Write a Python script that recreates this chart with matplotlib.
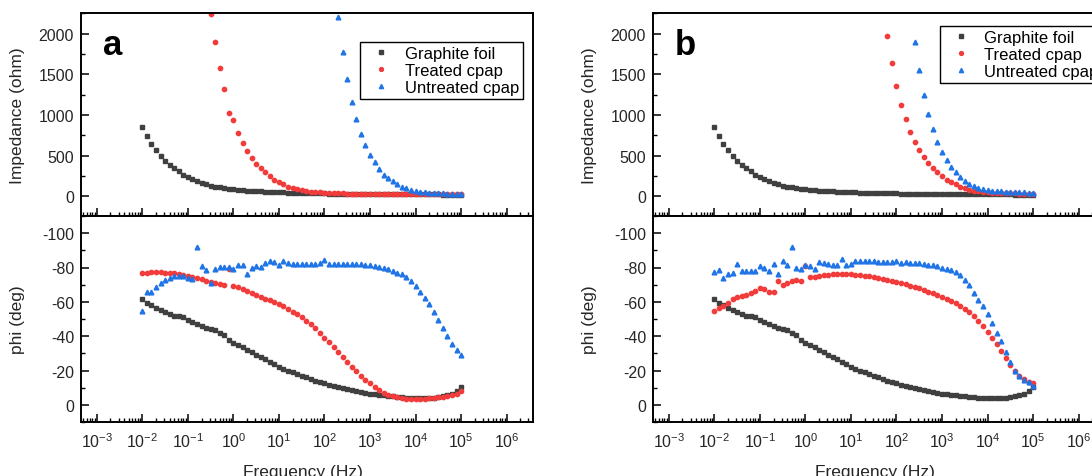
import numpy as np
import matplotlib
matplotlib.use("Agg")
import matplotlib.pyplot as plt
from matplotlib.ticker import LogLocator, MultipleLocator, NullFormatter

plt.rcParams['font.family'] = ['Liberation Sans', 'DejaVu Sans']
plt.rcParams['mathtext.default'] = 'regular'
plt.rcParams['axes.unicode_minus'] = False

# measurement sweep, 10 points per decade from 10 mHz to 100 kHz
FREQ = np.logspace(-2, 5, 71)

# graphite foil (same in both panels)
GRAPHITE_Z = [855, 741, 644, 562, 489, 436, 387, 342, 305, 265, 232,
              205, 180, 160, 143, 128, 116, 106, 97, 90, 85,
              79, 74, 69, 65, 61, 58, 55, 52, 50, 48,
              46, 44, 42, 40, 39, 37, 36, 35, 34, 33,
              32, 31, 30, 29, 29, 28, 27, 27, 26, 26,
              25, 25, 24, 24, 23, 23, 22, 22, 22, 21,
              21, 21, 20, 20, 20, 19, 19, 19, 18, 18]
GRAPHITE_PHI = [61.5, 59.5, 58, 56.5, 55, 54, 53, 52, 51.5, 51, 49.5,
                48, 47, 46, 45, 44, 43.5, 42, 40.5, 38, 36,
                35, 33.5, 32, 30.5, 29, 28, 26.5, 25, 23.5, 22,
                21, 20, 19, 18, 17, 16, 15, 14, 13.2, 12.5,
                11.8, 11, 10.3, 9.6, 9, 8.4, 7.9, 7.4, 7, 6.6,
                6.2, 5.8, 5.5, 5.2, 4.9, 4.6, 4.3, 4.1, 3.9, 3.8,
                3.7, 3.7, 3.8, 4.0, 4.4, 4.9, 5.6, 6.6, 8.2, 10.5]

# panel a
A_TREATED_START = 15
A_TREATED_Z = [2245, 1894, 1580, 1316, 1026, 933, 782, 660, 558, 468, 399, 342, 293, 253, 200,
               171, 143, 118, 102, 86, 73, 63, 56, 50, 46, 42,
               39, 37, 35, 33, 32, 31, 30, 29, 28, 28,
               27, 27, 26, 26, 26, 25, 25, 25, 24, 24,
               24, 24, 23, 23, 23, 23, 22, 22, 22, 22]
A_UNTREATED_START = 43
A_UNTREATED_Z = [2200, 1772, 1446, 1161, 949, 766, 631, 509, 420, 338, 265, 224, 183, 143, 114, 94, 77, 61,
                 52, 46, 41, 38, 35, 33, 31, 30, 29, 28]
A_TREATED_PHI = [76.7, 77, 77.5, 77.5, 77.3, 77, 76.9, 76.7, 76.3, 75.7, 75.1,
                 74.5, 73.7, 73.1, 72.3, 71.5, 70.8, 70.2, 69.8, 79, 69.2,
                 68.4, 67.4, 66.4, 65.4, 64.2, 63, 61.9, 60.9, 59.9, 58.5,
                 57.3, 55.9, 54.3, 52.8, 51, 49, 46.8, 44.5, 41.9, 39.1,
                 36.4, 33.6, 30.6, 27.7, 24.7, 22.1, 19.6, 17, 14.6, 12.5,
                 10.5, 8.7, 7.1, 5.9, 4.9, 4.3, 4, 3.6, 3.4, 3.4,
                 3.6, 3.6, 3.8, 4, 4.3, 4.5, 4.9, 5.5, 6.3, 8]
A_UNTREATED_PHI = [54.5, 65.5, 66, 68.5, 71, 72.5, 74, 75, 75.2, 75, 74,
                   73.5, 92, 81, 78.5, 71, 79, 80.4, 80.4, 80.4, 79,
                   81.6, 81.6, 76, 80, 81, 80.4, 82.4, 83.6, 83.2, 81.6,
                   83.6, 82.6, 82, 82, 82, 82, 82, 82, 82.6, 84.5,
                   82, 82, 82, 82, 82, 82, 81.8, 81.8, 81.5, 81.5,
                   80.8, 80.3, 79.8, 79, 78, 77, 76, 74.5, 72, 69.5,
                   66, 62.5, 58.5, 54, 49.4, 44.5, 40, 35.6, 32, 29]

# panel b
B_TREATED_START = 38
B_TREATED_Z = [1975, 1637, 1356, 1128, 949, 794, 672, 566, 477, 407, 346, 293, 244, 204, 171, 143, 118, 98, 81, 69,
               60, 53, 48, 44, 41, 38, 36, 34, 33, 32, 31, 30, 29]
B_UNTREATED_START = 44
B_UNTREATED_Z = [1894, 1548, 1242, 1014, 827, 664, 542, 440, 358, 293, 236, 191, 155, 126, 102,
                 88, 77, 68, 62, 57, 53, 50, 48, 46, 45, 44, 43]
B_TREATED_PHI = [54.5, 56.5, 57.5, 59.5, 61.5, 62.8, 63.4, 64.2, 65.4, 66.6, 67.8,
                 67.4, 65.8, 65.8, 72, 70, 70.8, 72, 72.5, 72.3, 81,
                 74.3, 74.5, 75.1, 75.7, 75.7, 76, 76.5, 76.5, 76.3, 76,
                 75.8, 75.5, 75.3, 74.9, 74.5, 74.1, 73.5, 72.9, 72.3, 71.7,
                 71, 70.2, 69.4, 68.6, 67.8, 67, 66, 65, 64, 63,
                 61.9, 60.7, 59.3, 57.7, 55.9, 54, 51.6, 49, 46, 42.7,
                 39.1, 35.2, 31.2, 27.3, 23.3, 20, 17, 14.8, 13.4, 12.5]
B_UNTREATED_PHI = [77.3, 78.7, 74.1, 76, 76.7, 82, 78, 77.7, 77.7, 77.7, 80.6,
                   80, 78, 82, 76, 84, 81.2, 91.9, 79.6, 79, 81.2,
                   80.6, 79, 83.2, 82.6, 82, 81.6, 81.2, 85.2, 81.6, 82,
                   84, 83.6, 83.6, 83.5, 83.5, 83, 83, 83, 83, 83.6,
                   82.5, 83, 82.6, 82.4, 82.4, 82, 81.6, 81.2, 80.6, 80,
                   79.4, 78.5, 77.3, 75.5, 73, 70, 65, 61, 57.5, 53,
                   47.6, 42, 37, 31, 25, 19.5, 17, 14.5, 13.5, 11]

LABELS = ["Graphite foil", "Treated cpap", "Untreated cpap"]
COLORS = ["#404040", "#f23c3c", "#1f74e6"]
MARKERS = ["s", "o", "^"]
MSIZES = [2.7, 3.1, 3.4]

W, H = 1092, 477
fig = plt.figure(figsize=(W / 100, H / 100), dpi=100)


def style(ax, bottom_labels):
    ax.set_xscale('log')
    ax.set_xlim(4.5e-4, 3.8e6)
    ax.xaxis.set_major_locator(LogLocator(base=10, numticks=20))
    ax.xaxis.set_minor_locator(LogLocator(base=10, subs=np.arange(2, 10), numticks=20))
    ax.xaxis.set_minor_formatter(NullFormatter())
    ax.tick_params(which='both', direction='in', top=False, right=False,
                   labelsize=11.5, labelcolor='#262626', pad=5)
    ax.tick_params(axis='x', pad=7, labelbottom=bottom_labels)
    ax.tick_params(which='major', length=6, width=1.1)
    ax.tick_params(which='minor', length=3, width=1.0)
    for s in ax.spines.values():
        s.set_linewidth(1.4)


def panel(x0, letter, tr_start, tr_z, un_start, un_z, tr_phi, un_phi, leg_loc, leg_anchor):
    left = x0 / W
    width = 452 / W
    ax1 = fig.add_axes([left, 1 - 217 / H, width, 203 / H])
    ax2 = fig.add_axes([left, 1 - 423 / H, width, 206 / H])

    z_sets = [(FREQ, GRAPHITE_Z), (FREQ[tr_start:], tr_z), (FREQ[un_start:], un_z)]
    for (f, z), lab, c, m, ms in zip(z_sets, LABELS, COLORS, MARKERS, MSIZES):
        ax1.plot(f, z, linestyle='none', marker=m, ms=ms, color=c, mec=c, label=lab)
    ax1.set_ylim(-245, 2255)
    ax1.yaxis.set_major_locator(MultipleLocator(500))
    ax1.yaxis.set_minor_locator(MultipleLocator(250))
    style(ax1, False)
    ax1.set_ylabel("Impedance (ohm)", fontsize=12.5, color='#262626')
    ax1.yaxis.set_label_coords(-0.124, 0.5)
    ax1.text(0.049, 0.798, letter, transform=ax1.transAxes, fontsize=25,
             fontweight='bold', ha='left', va='baseline')
    ax1.legend(loc=leg_loc, bbox_to_anchor=leg_anchor, frameon=True, fancybox=False,
               edgecolor='black', framealpha=1, fontsize=12, handlelength=2,
               handletextpad=0.4, borderpad=0.25, labelspacing=0.12,
               markerscale=0.9, borderaxespad=0).get_frame().set_linewidth(1.0)

    p_sets = [GRAPHITE_PHI, tr_phi, un_phi]
    for p, c, m, ms in zip(p_sets, COLORS, MARKERS, MSIZES):
        ax2.plot(FREQ, -np.array(p), linestyle='none', marker=m, ms=ms, color=c, mec=c)
    ax2.set_ylim(10, -110)
    ax2.yaxis.set_major_locator(MultipleLocator(20))
    ax2.yaxis.set_minor_locator(MultipleLocator(10))
    style(ax2, True)
    ax2.set_ylabel("phi (deg)", fontsize=12.5, color='#262626')
    ax2.yaxis.set_label_coords(-0.124, 0.5)
    ax2.set_xlabel("Frequency (Hz)", fontsize=12.5, color='#262626')
    ax2.xaxis.set_label_coords(0.49, -0.205)


panel(81, "a", A_TREATED_START, A_TREATED_Z, A_UNTREATED_START, A_UNTREATED_Z,
      A_TREATED_PHI, A_UNTREATED_PHI, 'upper right', (0.978, 0.857))
panel(653, "b", B_TREATED_START, B_TREATED_Z, B_UNTREATED_START, B_UNTREATED_Z,
      B_TREATED_PHI, B_UNTREATED_PHI, 'upper left', (0.635, 0.936))

fig.savefig("out.png", dpi=100)
